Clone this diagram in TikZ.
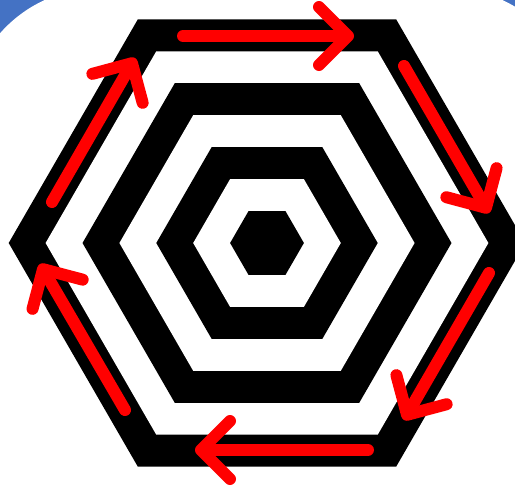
\documentclass[tikz,border=0pt]{standalone}
\usepackage{tikz}
\usetikzlibrary{arrows.meta}
\definecolor{slideblue}{RGB}{68,114,196}
\tikzset{
  flow/.style={red, line width=12pt, line cap=round,
    -{Straight Barb[length=29pt,width=58pt,round]}}}

\begin{document}
\begin{tikzpicture}[x=1pt,y=-1pt]
  \useasboundingbox (0,0) rectangle (515,488);
  \clip (0,0) rectangle (515,488);
    \fill [slideblue] (0,0) rectangle (515,488);
    \fill [white, rounded corners=133pt] (-33,-12) rectangle (580,700);
  \foreach \k/\col in {7/black,6/white,5/black,4/white,3/black,2/white,1/black}{
    \pgfmathsetmacro\r{36.9*\k}
    \fill [\col, shift={(267,243)}] (0:\r) -- (60:\r) -- (120:\r) -- (180:\r) -- (240:\r) -- (300:\r) -- cycle;
  }
    \coordinate (ts) at (183,36);
    \coordinate (te) at (354,36);
        \coordinate (rs) at (404,66);
        \coordinate (re) at (489,213);
           \coordinate (ls) at (489,273);
           \coordinate (le) at (404,420);
              \coordinate (bs) at (368,450);
              \coordinate (be) at (195,450);
                 \coordinate (ms) at (125,410);
                 \coordinate (me) at (40,264);
                    \coordinate (us) at (52,202);
                    \coordinate (ue) at (135,58);
         \draw [flow] (ts) -- (te);
          \draw [flow] (rs) -- (re);
         \draw [flow] (ls) -- (le);
          \draw [flow] (bs) -- (be);
         \draw [flow] (ms) -- (me);
          \draw [flow] (us) -- (ue);
\end{tikzpicture}
\end{document}
